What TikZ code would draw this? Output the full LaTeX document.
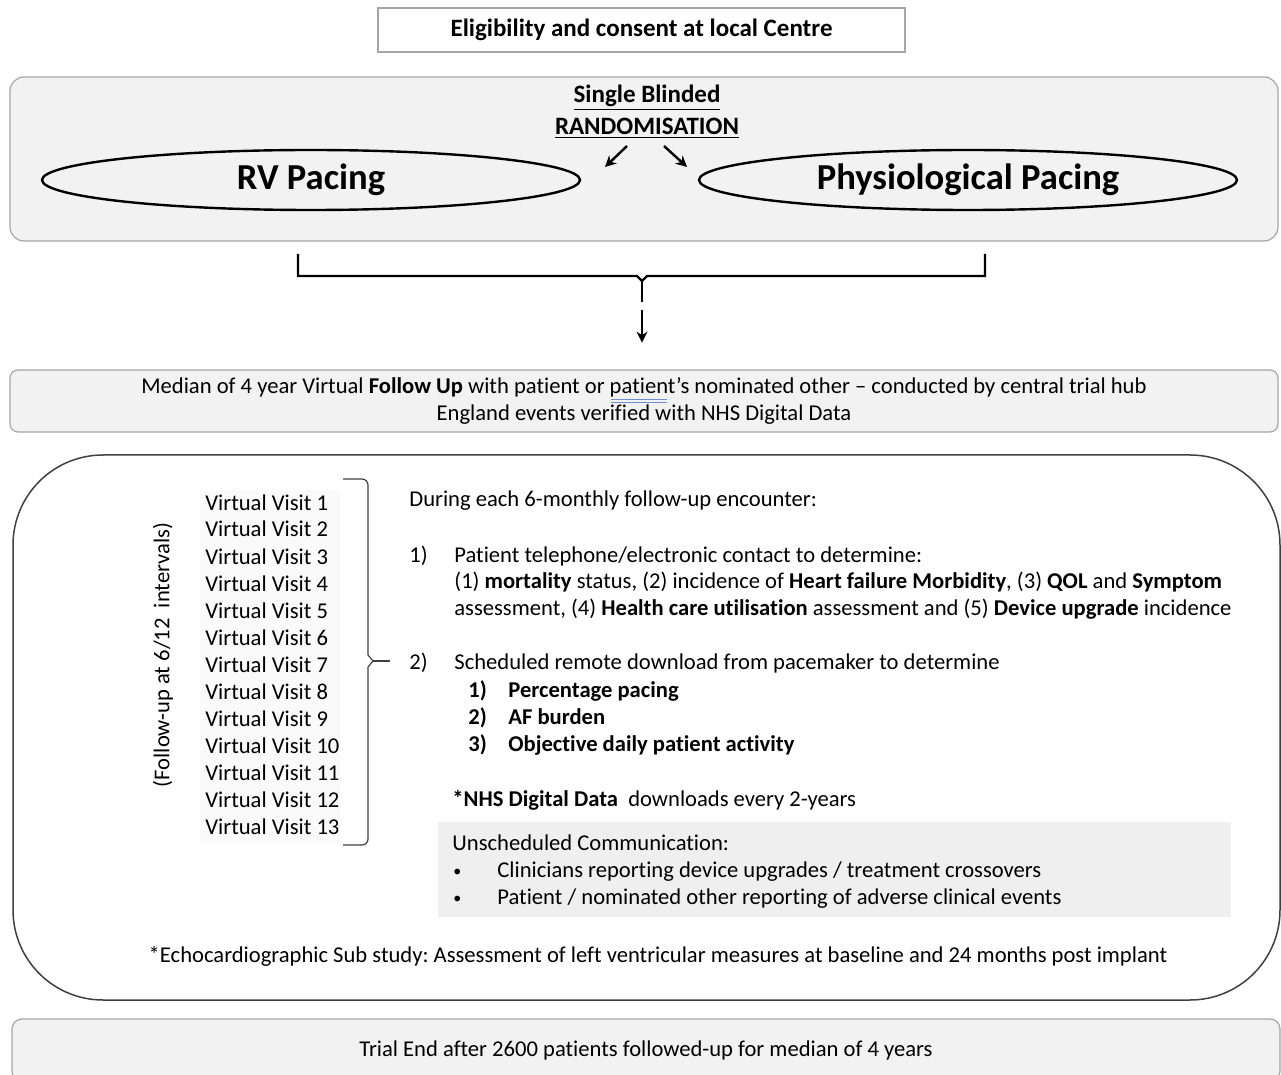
\documentclass[tikz,border=0pt]{standalone}
\usepackage{fontspec}
\setmainfont{Carlito}[Ligatures=NoCommon, RawFeature={-liga;-clig;-calt;-dlig}]
\usetikzlibrary{arrows.meta,shapes.geometric}
\definecolor{boxfill}{HTML}{F2F2F2}
\definecolor{boxline}{HTML}{A6A6A6}
\definecolor{bigline}{HTML}{404040}
\definecolor{unsched}{HTML}{EFEFEF}
\definecolor{visitbg}{HTML}{FAFAFA}
\definecolor{spellblue}{HTML}{6D8FD8}
\frenchspacing
\begin{document}
\begin{tikzpicture}[x=0.5pt,y=-0.5pt,
  bodyfont/.style={font=\fontsize{11.3}{13.2}\selectfont},
  txt/.style={inner sep=0pt, bodyfont, anchor=base west},
  btxt/.style={txt, font=\fontsize{11.3}{13.2}\selectfont\bfseries},
  ctxt/.style={txt, anchor=base},
  graybox/.style={draw=boxline, fill=boxfill, line width=0.6pt, inner sep=0pt},
  pacing/.style={ellipse, draw=black, line width=1.2pt, fill=boxfill, inner sep=0pt,
    minimum width=269pt, minimum height=30pt, font=\fontsize{18.3}{20}\selectfont\bfseries},
  arr/.style={-{Stealth[length=5.5pt,width=5.5pt]}, line width=1.2pt}
]
\useasboundingbox (0,0) rectangle (1281,1075);

% top box
\node[draw=boxline, line width=0.6pt, fill=white, minimum width=263.5pt, minimum height=22pt,
  inner sep=0pt, font=\fontsize{12.5}{14}\selectfont\bfseries] (elig) at (641.5,30)
  {Eligibility and consent at local Centre};

% randomisation box
\node[graybox, rounded corners=7pt, minimum width=634pt, minimum height=82pt] (rand) at (644,159) {};
\node[inner sep=0pt, font=\fontsize{12.5}{14}\selectfont\bfseries] (sb) at (647,98) {\underline{Single Blinded}};
\node[inner sep=0pt, font=\fontsize{12.5}{14}\selectfont\bfseries] (rnd) at (647,128) {\underline{RANDOMISATION}};
\node[pacing] (rv) at (311,180) {RV Pacing};
\node[pacing] (phys) at (968,180) {Physiological Pacing};
\coordinate (la0) at (627,146);
\coordinate (la1) at (605,167);
\coordinate (ra0) at (664,146);
\coordinate (ra1) at (687,167);
\draw[arr] (la0) -- (la1);
\draw[arr] (ra0) -- (ra1);

% bracket
\coordinate (bl) at (298,254);
\coordinate (br) at (985,254);
\coordinate (bt) at (642,302);
\coordinate (a0) at (642,310);
\draw[line width=1.2pt, line join=miter] (bl) -- (298,276) -- (637,276) -- (642,281) -- (647,276) -- (985,276) -- (br);
\draw[line width=1.2pt] (642,281) -- (bt);
\node[inner sep=0pt, minimum size=0pt] (fuTop) at (642,343) {};
\draw[arr] (a0) -- (fuTop);

% follow-up box
\node[graybox, rounded corners=4pt, minimum width=634pt, minimum height=31pt,
  bodyfont, align=center] (fu) at (644,401)
  {Median of 4 year Virtual \textbf{Follow Up} with patient or patient’s nominated other – conducted by central trial hub\\
   England events verified with NHS Digital Data};
\draw[spellblue, line width=0.5pt] (611,400) -- (667,400);
\draw[spellblue, line width=0.5pt] (611,403) -- (667,403);

% big box
\node[draw=bigline, line width=0.75pt, rounded corners=45pt, minimum width=633.5pt,
  minimum height=272.5pt, inner sep=0pt] (big) at (646.5,727.5) {};

\node[fill=visitbg, inner sep=0pt, minimum width=70pt, minimum height=177pt] (vbg) at (270,667) {};
\node[inner sep=0pt, rotate=90, bodyfont] (fol) at (163,655) {(Follow-up at 6/12\ \ intervals)};
\foreach \i in {1,...,13} {
  \pgfmathsetmacro{\yy}{510+27*(\i-1)}
  \node[txt] (vv\i) at (205,\yy) {Virtual Visit \i};
}
\coordinate (brtop) at (343,479);
\coordinate (brbot) at (343,845);
\coordinate (brtip) at (390,661);
\draw[bigline, line width=0.6pt, rounded corners=3pt] (brtop) -- (368,479) -- (368,655);
\draw[bigline, line width=0.6pt, rounded corners=3pt] (brbot) -- (368,845) -- (368,667);
\draw[bigline, line width=0.6pt] (368,655) -- (373,661) -- (368,667);
\draw[bigline, line width=0.6pt] (373,661) -- (brtip);

\node[txt] (during) at (409,507) {During each 6-monthly follow-up encounter:};
\node[txt] (n1) at (409,562) {1)};
\node[txt] (p1a) at (454,562) {Patient telephone/electronic contact to determine:};
\node[txt] (p1b) at (454,588) {(1) \textbf{mortality} status, (2) incidence of \textbf{Heart failure Morbidity}, (3) \textbf{QOL} and \textbf{Symptom}};
\node[txt] (p1c) at (454,615) {assessment, (4) \textbf{Health care utilisation} assessment and (5) \textbf{Device upgrade} incidence};
\node[txt] (n2) at (409,669) {2)};
\node[txt] (p2) at (454,669) {Scheduled remote download from pacemaker to determine};
\node[btxt] (s1n) at (468,697) {1)};
\node[btxt] (s1) at (508,697) {Percentage pacing};
\node[btxt] (s2n) at (468,724) {2)};
\node[btxt] (s2) at (508,724) {AF burden};
\node[btxt] (s3n) at (468,751) {3)};
\node[btxt] (s3) at (508,751) {Objective daily patient activity};
\node[txt] (nhs) at (452,806) {\textbf{*NHS Digital Data}\ \ downloads every 2-years};

\node[fill=unsched, inner sep=0pt, minimum width=396.5pt, minimum height=47.5pt] (ub) at (834.5,869.5) {};
\node[txt] (uc) at (452,850) {Unscheduled Communication:};
\node[txt, font=\fontsize{8}{9}\selectfont] (b1) at (453,876) {\textbullet};
\node[txt] (b1t) at (497,877) {Clinicians reporting device upgrades / treatment crossovers};
\node[txt, font=\fontsize{8}{9}\selectfont] (b2) at (453,903) {\textbullet};
\node[txt] (b2t) at (497,904) {Patient / nominated other reporting of adverse clinical events};

\node[ctxt] (echo) at (658,962) {*Echocardiographic Sub study: Assessment of left ventricular measures at baseline and 24 months post implant};

% bottom box
\node[graybox, rounded corners=5pt, minimum width=634pt, minimum height=31pt,
  bodyfont] (end) at (646,1050)
  {Trial End after 2600 patients followed-up for median of 4 years};
\end{tikzpicture}
\end{document}
